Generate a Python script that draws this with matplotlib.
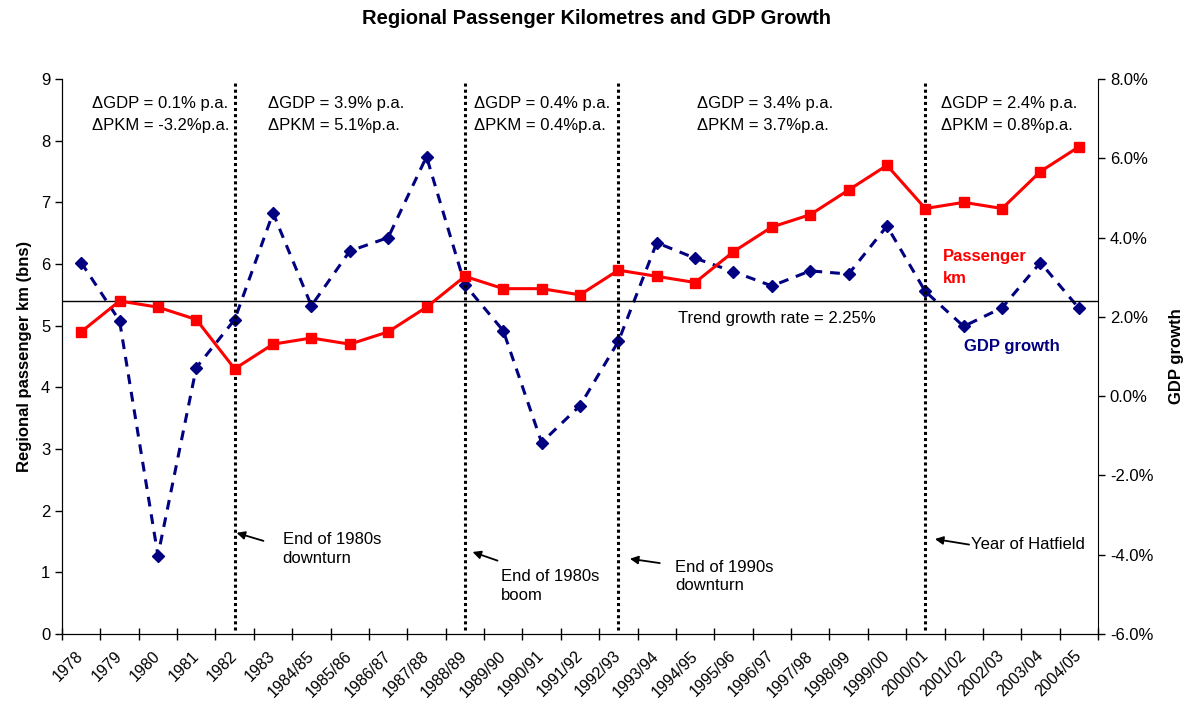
import numpy as np
import matplotlib
matplotlib.use("Agg")
import matplotlib.pyplot as plt
import matplotlib.transforms as mtransforms

plt.rcParams['font.family'] = ['Liberation Sans', 'DejaVu Sans']

years = ["1978", "1979", "1980", "1981", "1982", "1983", "1984/85", "1985/86",
         "1986/87", "1987/88", "1988/89", "1989/90", "1990/91", "1991/92",
         "1992/93", "1993/94", "1994/95", "1995/96", "1996/97", "1997/98",
         "1998/99", "1999/00", "2000/01", "2001/02", "2002/03", "2003/04", "2004/05"]
pkm = [4.9, 5.4, 5.3, 5.1, 4.3, 4.7, 4.8, 4.7, 4.9, 5.3, 5.8, 5.6, 5.6, 5.5,
       5.9, 5.8, 5.7, 6.2, 6.6, 6.8, 7.2, 7.6, 6.9, 7.0, 6.9, 7.5, 7.9]
gdp = [3.37, 1.90, -4.02, 0.72, 1.93, 4.62, 2.28, 3.66, 4.00, 6.04, 2.81, 1.65,
       -1.17, -0.24, 1.38, 3.87, 3.48, 3.14, 2.78, 3.16, 3.08, 4.29, 2.64,
       1.76, 2.23, 3.37, 2.22]
trend = 5.4
break_years = ["1982", "1988/89", "1992/93", "2000/01"]

period_x = [0.28, 4.87, 10.24, 16.05, 22.41]
period_gdp = ["0.1% p.a.", "3.9% p.a.", "0.4% p.a.", "3.4% p.a.", "2.4% p.a."]
period_pkm = ["-3.2%p.a.", "5.1%p.a.", "0.4%p.a.", "3.7%p.a.", "0.8%p.a."]

notes = ["End of 1980s\ndownturn", "End of 1980s\nboom", "End of 1990s\ndownturn", "Year of Hatfield"]
# (head x, head y, tail x, tail y, text x, text y) in data units of left axis
note_pos = [(4.05, 1.64, 4.75, 1.51, 5.25, 1.38),
            (10.2, 1.33, 10.85, 1.19, 10.93, 0.78),
            (14.3, 1.22, 15.08, 1.15, 15.47, 0.93),
            (22.25, 1.54, 23.14, 1.45, 23.18, 1.45)]

x = np.arange(len(years))

fig = plt.figure(figsize=(11.86, 7.01), dpi=100)
ax = fig.add_axes([62/1186, (701-634)/701, (1098-62)/1186, (634-79)/701])
ax2 = ax.twinx()

ax.set_zorder(2)
ax.patch.set_visible(False)

ax.plot(x, pkm, color="#ff0000", lw=2.2, marker="s", ms=7.5, zorder=5)
ax2.plot(x, gdp, color="#000080", lw=2.2, dashes=(3.2, 2.6), marker="D", ms=6, zorder=4)

ax.axhline(trend, color="black", lw=1)
for b in break_years:
    i = years.index(b)
    ax.vlines(i, 0.06, 8.95, colors="black", lw=2.2, linestyles=(0, (1, 1)), zorder=3)

ax.set_xlim(-0.5, len(years) - 0.5)
ax.set_ylim(0, 9)
ax2.set_ylim(-6, 8)
ax.set_yticks(range(0, 10))
ax2.set_yticks(range(-6, 9, 2))
ax2.set_yticklabels(["%.1f%%" % v for v in range(-6, 9, 2)])

ax.set_xticks(x)
ax.set_xticklabels(years, rotation=45, ha="right", va="center", rotation_mode="anchor", fontsize=11.5)
offset = mtransforms.ScaledTranslation(-6/100, -3/100, fig.dpi_scale_trans)
for lab in ax.get_xticklabels():
    lab.set_transform(lab.get_transform() + offset)
ax.set_xticks(np.arange(-0.5, len(years)), minor=True)
ax.tick_params(axis="x", which="major", length=0, pad=14)
ax.tick_params(axis="x", which="minor", length=8, direction="inout", width=1)
ax.tick_params(axis="y", labelsize=12, length=5, width=1)
ax2.tick_params(axis="y", labelsize=12, length=5, width=1)

for a in (ax, ax2):
    a.spines["top"].set_visible(False)
ax.spines["right"].set_visible(False)

ax.set_ylabel("Regional passenger km (bns)", fontsize=12, fontweight="bold", labelpad=6)
ax2.set_ylabel("GDP growth", fontsize=12, fontweight="bold", rotation=90, labelpad=11)

fig.text(0.5029, 1 - 18/701, "Regional Passenger Kilometres and GDP Growth",
         ha="center", va="center", fontsize=14.5, fontweight="bold")

for px, g, p in zip(period_x, period_gdp, period_pkm):
    ax.text(px, 8.60, "\u0394GDP = " + g, fontsize=12, va="center", ha="left")
    ax.text(px, 8.24, "\u0394PKM = " + p, fontsize=12, va="center", ha="left")

ax.text(15.55, 5.12, "Trend growth rate = 2.25%", fontsize=12, va="center", ha="left")
ax.text(22.45, 5.94, "Passenger\nkm", color="#ff0000", fontsize=12, fontweight="bold",
        va="center", ha="left", linespacing=1.55)
ax.text(23.0, 4.66, "GDP growth", color="#000080", fontsize=12, fontweight="bold",
        va="center", ha="left")

for txt, (hx, hy, tx, ty, lx, ly) in zip(notes, note_pos):
    ax.annotate("", xy=(hx, hy), xytext=(tx, ty),
                arrowprops=dict(arrowstyle="-|>", color="black", lw=1.3, mutation_scale=12,
                                shrinkA=0, shrinkB=0))
    ax.text(lx, ly, txt, fontsize=12, va="center", ha="left", linespacing=1.3)

fig.savefig("out.png", dpi=100)
